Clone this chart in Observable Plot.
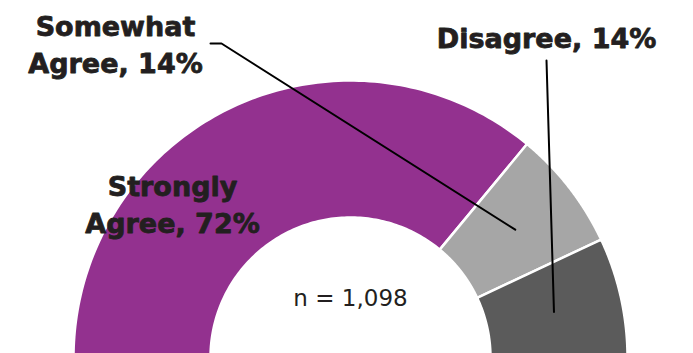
<!DOCTYPE html>
<html>
<head>
<meta charset="utf-8">
<script src="https://cdn.jsdelivr.net/npm/d3@7"></script>
<script src="https://cdn.jsdelivr.net/npm/@observablehq/plot@0.6"></script>
<style>
  html, body { margin: 0; padding: 0; background: #fff; }
  #chart { width: 693px; height: 353px; overflow: hidden; }
</style>
</head>
<body>
<div id="chart"></div>
<script>
// ---- data ----
const categories = ["Strongly Agree", "Somewhat Agree", "Disagree"];
const shares = [72, 14, 14];
const labelTexts = ["Strongly\nAgree, 72%", "Somewhat\nAgree, 14%", "Disagree, 14%"];
const sampleNote = "n = 1,098";
const sliceColors = ["#93318f", "#a6a6a6", "#5b5b5b"];

// ---- geometry (units: outer radius = 1) ----
const W = 693, H = 353;
const pxPerUnit = 277, cx = 350, cy = 357;
const innerR = 140 / pxPerUnit;
const toX = px => (px - cx) / pxPerUnit;
const toY = py => (cy - py) / pxPerUnit;

const total = d3.sum(shares);
let acc = 0;
const slices = categories.map((c, i) => {
  const a0 = Math.PI * (1 - acc / total);
  acc += shares[i];
  const a1 = Math.PI * (1 - acc / total);
  return {cat: c, a0, a1, mid: (a0 + a1) / 2};
});

const pts = [];
for (const s of slices) {
  const n = 120;
  const ring = [];
  for (let k = 0; k <= n; k++) {
    const a = s.a0 + (s.a1 - s.a0) * k / n;
    ring.push({cat: s.cat, x: Math.cos(a), y: Math.sin(a)});
  }
  for (let k = n; k >= 0; k--) {
    const a = s.a0 + (s.a1 - s.a0) * k / n;
    ring.push({cat: s.cat, x: innerR * Math.cos(a), y: innerR * Math.sin(a)});
  }
  ring.push(ring[0]);
  pts.push(...ring);
}

const midR = (1 + innerR) / 2;
const centroid = i => ({x: midR * Math.cos(slices[i].mid), y: midR * Math.sin(slices[i].mid)});

const leaders = [
  {id: "sa", x: toX(210), y: toY(43)},
  {id: "sa", x: toX(221), y: toY(43)},
  {id: "sa", ...centroid(1)},
  {id: "d", x: toX(546), y: toY(60)},
  {id: "d", ...centroid(2)}
];

const labels = [
  {t: labelTexts[0], x: toX(172), y: toY(202)},
  {t: labelTexts[1], x: toX(115), y: toY(42)},
  {t: labelTexts[2], x: toX(546), y: toY(36)}
];

const chart = Plot.plot({
  width: W, height: H,
  margin: 0,
  x: {domain: [toX(0), toX(W)], axis: null},
  y: {domain: [toY(H), toY(0)], axis: null},
  color: {domain: categories, range: sliceColors},
  style: {background: "#fff"},
  marks: [
    Plot.line(pts, {x: "x", y: "y", z: "cat", fill: "cat", stroke: "#fff", strokeWidth: 2.5, curve: "linear"}),
    Plot.line(leaders, {x: "x", y: "y", z: "id", stroke: "#000", strokeWidth: 2}),
    Plot.text(labels, {x: "x", y: "y", text: "t", fill: "#231f20", stroke: "#231f20", strokeWidth: 0.8,
      fontWeight: 700, fontSize: 27,
      fontFamily: "'DejaVu Sans', sans-serif", textAnchor: "middle", lineHeight: 1.36}),
    Plot.text([sampleNote], {x: 0, y: toY(298), text: d => d, fill: "#231f20", fontSize: 23,
      fontFamily: "'DejaVu Sans', sans-serif", textAnchor: "middle"})
  ]
});
document.getElementById("chart").appendChild(chart);
</script>
</body>
</html>
